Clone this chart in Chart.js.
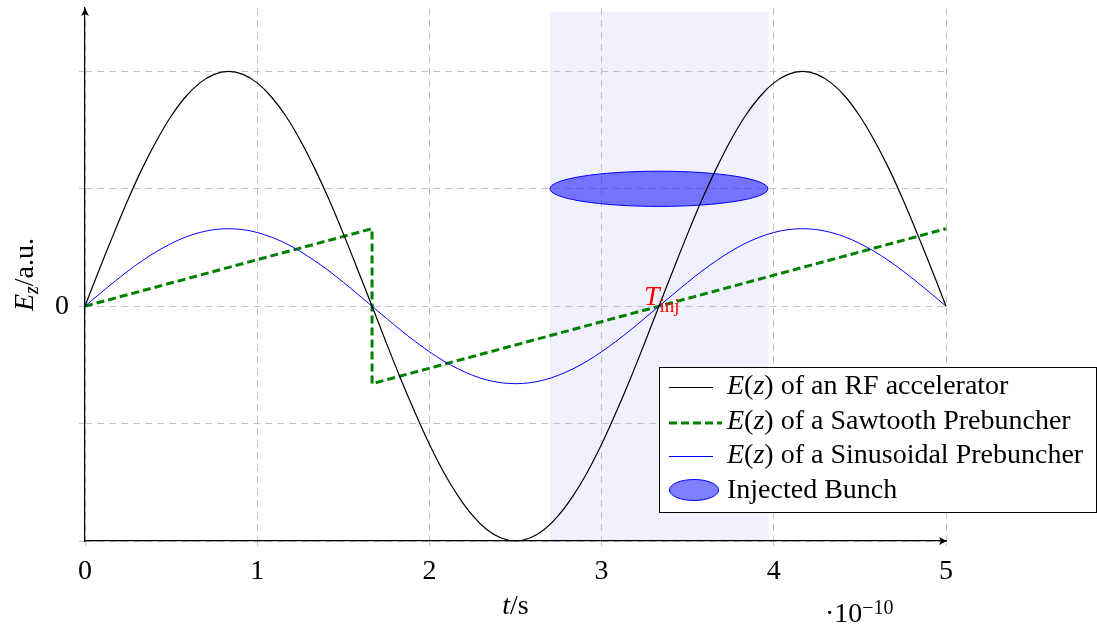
<!DOCTYPE html>
<html>
<head>
<meta charset="utf-8">
<script src="https://cdn.jsdelivr.net/npm/chart.js@4/dist/chart.umd.min.js"></script>
<style>
  html, body { margin: 0; padding: 0; background: #fff; overflow: hidden; }
  canvas { display: block; }
</style>
</head>
<body>
<canvas id="chart" width="1097" height="627"></canvas>
<script>
// time axis samples (units of 1e-10 s)
const timeSamples = [0, 0.083, 0.167, 0.25, 0.333, 0.417, 0.5, 0.583, 0.667, 0.75, 0.833, 0.917, 1, 1.083,
    1.167, 1.25, 1.333, 1.417, 1.5, 1.583, 1.667, 1.75, 1.833, 1.917, 2, 2.083, 2.167, 2.25, 2.333, 2.417, 2.5,
    2.583, 2.667, 2.75, 2.833, 2.917, 3, 3.083, 3.167, 3.25, 3.333, 3.417, 3.5, 3.583, 3.667, 3.75, 3.833, 3.917,
    4, 4.083, 4.167, 4.25, 4.333, 4.417, 4.5, 4.583, 4.667, 4.75, 4.833, 4.917, 5];

// field of the RF accelerator
const rfField = [0, 0.313, 0.618, 0.908, 1.176, 1.414, 1.618, 1.782, 1.902, 1.975, 2,
    1.975, 1.902, 1.782, 1.618, 1.414, 1.176, 0.908, 0.618, 0.313, 0,
    -0.313, -0.618, -0.908, -1.176, -1.414, -1.618, -1.782, -1.902, -1.975, -2,
    -1.975, -1.902, -1.782, -1.618, -1.414, -1.176, -0.908, -0.618, -0.313, 0,
    0.313, 0.618, 0.908, 1.176, 1.414, 1.618, 1.782, 1.902, 1.975, 2,
    1.975, 1.902, 1.782, 1.618, 1.414, 1.176, 0.908, 0.618, 0.313, 0];

// field of the sinusoidal prebuncher
const sineField = [0, 0.103, 0.204, 0.3, 0.388, 0.467, 0.534, 0.588, 0.628, 0.652, 0.66,
    0.652, 0.628, 0.588, 0.534, 0.467, 0.388, 0.3, 0.204, 0.103, 0,
    -0.103, -0.204, -0.3, -0.388, -0.467, -0.534, -0.588, -0.628, -0.652, -0.66,
    -0.652, -0.628, -0.588, -0.534, -0.467, -0.388, -0.3, -0.204, -0.103, 0,
    0.103, 0.204, 0.3, 0.388, 0.467, 0.534, 0.588, 0.628, 0.652, 0.66,
    0.652, 0.628, 0.588, 0.534, 0.467, 0.388, 0.3, 0.204, 0.103, 0];

// sawtooth prebuncher corners
const sawTimes = [0, 1.667, 1.667, 5];
const sawField = [0, 0.66, -0.66, 0.66];

// injection window and bunch
const injectionWindow = [2.7, 3.97];
const bunchCenter = [3.333, 1];
const bunchHalfSize = [0.633, 0.15];
const injectionPoint = [3.333, 0];

const xTicks = [0, 1, 2, 3, 4, 5];
const yLabelled = [0];

const legendTexts = ["of an RF accelerator", "of a Sawtooth Prebuncher", "of a Sinusoidal Prebuncher", "Injected Bunch"];

const serif = '"Liberation Serif", "Times New Roman", serif';
const font = (size, italic) => (italic ? "italic " : "") + size + "px " + serif;

function toPoints(xs, ys) {
    return xs.map((x, i) => ({ x: x, y: ys[i] }));
}

function runsWidth(ctx, runs) {
    let w = 0;
    runs.forEach(r => { ctx.font = r.font; w += ctx.measureText(r.text).width; });
    return w;
}

function drawRuns(ctx, runs, x, y) {
    runs.forEach(r => {
        ctx.font = r.font;
        ctx.fillText(r.text, x, y + (r.dy || 0));
        x += ctx.measureText(r.text).width;
    });
}

function mathE(rest) {
    return [
        { text: "E", font: font(28, true) },
        { text: "(", font: font(28, false) },
        { text: "z", font: font(28, true) },
        { text: ") " + rest, font: font(28, false) },
    ];
}

function arrowHead(ctx, x, y, angle) {
    ctx.save();
    ctx.translate(x, y);
    ctx.rotate(angle);
    ctx.beginPath();
    ctx.moveTo(0, 0);
    ctx.lineTo(-8, -4);
    ctx.lineTo(-6, 0);
    ctx.lineTo(-8, 4);
    ctx.closePath();
    ctx.fillStyle = "#000";
    ctx.fill();
    ctx.restore();
}

const decorations = {
    id: "decorations",
    beforeDraw(chart) {
        const { ctx, chartArea, scales: { x } } = chart;
        // shaded injection window
        const x0 = x.getPixelForValue(injectionWindow[0]);
        const x1 = x.getPixelForValue(injectionWindow[1]);
        ctx.save();
        ctx.fillStyle = "#f0f0ff";
        ctx.fillRect(x0, chartArea.top + 4, x1 - x0, chartArea.bottom - chartArea.top - 4);
        ctx.restore();
    },
    beforeDatasetsDraw(chart) {
        const { ctx, scales: { x, y } } = chart;
        const cx = x.getPixelForValue(bunchCenter[0]);
        const cy = y.getPixelForValue(bunchCenter[1]);
        const rx = x.getPixelForValue(bunchCenter[0] + bunchHalfSize[0]) - cx;
        const ry = cy - y.getPixelForValue(bunchCenter[1] + bunchHalfSize[1]);
        ctx.save();
        ctx.beginPath();
        ctx.ellipse(cx, cy, rx, ry, 0, 0, Math.PI * 2);
        ctx.fillStyle = "rgba(0, 0, 255, 0.52)";
        ctx.fill();
        ctx.strokeStyle = "#0000ff";
        ctx.lineWidth = 1;
        ctx.stroke();
        ctx.restore();
    },
    afterDatasetsDraw(chart) {
        const { ctx, chartArea, scales: { x, y } } = chart;
        ctx.save();
        ctx.fillStyle = "#ff0000";
        ctx.textBaseline = "alphabetic";
        const px = x.getPixelForValue(injectionPoint[0]);
        const py = y.getPixelForValue(injectionPoint[1]);
        drawRuns(ctx, [
            { text: "T", font: font(28, true) },
            { text: "inj", font: font(19, false), dy: 7 },
        ], px - 15, py - 1);
        ctx.restore();

        // axis arrows
        arrowHead(ctx, chartArea.left, chartArea.top, -Math.PI / 2);
        arrowHead(ctx, chartArea.right + 1, chartArea.bottom, 0);
    },
    afterDraw(chart) {
        const { ctx, chartArea } = chart;
        ctx.save();
        ctx.fillStyle = "#000";
        ctx.textBaseline = "alphabetic";

        // x axis title and scale factor
        const xTitle = [
            { text: "t", font: font(28, true) },
            { text: "/s", font: font(28, false) },
        ];
        const mid = (chartArea.left + chartArea.right) / 2;
        drawRuns(ctx, xTitle, mid - runsWidth(ctx, xTitle) / 2, 614);
        drawRuns(ctx, [
            { text: "\u00b710", font: font(28, false) },
            { text: "\u221210", font: font(20, false), dy: -8 },
        ], chartArea.right - 121, 622);

        // y axis title
        const yTitle = [
            { text: "E", font: font(28, true) },
            { text: "z", font: font(20, true), dy: 5 },
            { text: "/a.u.", font: font(28, false) },
        ];
        ctx.translate(33, (chartArea.top + chartArea.bottom) / 2);
        ctx.rotate(-Math.PI / 2);
        drawRuns(ctx, yTitle, -runsWidth(ctx, yTitle) / 2, 0);
        ctx.restore();

        // legend
        const lx = 659, ly = 367, lw = 437, lh = 145;
        ctx.save();
        ctx.fillStyle = "#fff";
        ctx.fillRect(lx, ly, lw, lh);
        ctx.strokeStyle = "#000";
        ctx.lineWidth = 1;
        ctx.strokeRect(lx + 0.5, ly + 0.5, lw, lh);

        const rows = [394, 429, 463, 498];
        const sampleColors = ["#000", "#008000", "#0000ff"];
        rows.slice(0, 3).forEach((base, i) => {
            ctx.beginPath();
            ctx.strokeStyle = sampleColors[i];
            if (i === 1) {
                ctx.lineWidth = 3;
                ctx.setLineDash([8, 4]);
                ctx.moveTo(669, base - 6);
                ctx.lineTo(722, base - 6);
            } else {
                ctx.lineWidth = 1;
                ctx.setLineDash([]);
                ctx.moveTo(669, base - 6.5);
                ctx.lineTo(713, base - 6.5);
            }
            ctx.stroke();
            ctx.setLineDash([]);
            ctx.fillStyle = "#000";
            drawRuns(ctx, mathE(legendTexts[i]), 727, base);
        });
        ctx.beginPath();
        ctx.ellipse(694, 490, 24.5, 10.5, 0, 0, Math.PI * 2);
        ctx.fillStyle = "rgba(0, 0, 255, 0.5)";
        ctx.fill();
        ctx.strokeStyle = "#0000ff";
        ctx.lineWidth = 1;
        ctx.stroke();
        ctx.fillStyle = "#000";
        drawRuns(ctx, [{ text: legendTexts[3], font: font(28, false) }], 727, rows[3]);
        ctx.restore();
    }
};

const gridColor = "#c4c4c4";

new Chart(document.getElementById("chart"), {
    type: "line",
    data: {
        datasets: [
            {
                data: toPoints(timeSamples, rfField),
                borderColor: "#000",
                borderWidth: 1.2,
                tension: 0.34,
                pointRadius: 0,
                clip: false,
                order: 0,
            },
            {
                data: toPoints(timeSamples, sineField),
                borderColor: "#0000ff",
                borderWidth: 1,
                tension: 0.34,
                pointRadius: 0,
                clip: false,
                order: 1,
            },
            {
                data: toPoints(sawTimes, sawField),
                borderColor: "#008000",
                borderWidth: 3,
                borderDash: [8, 4],
                tension: 0,
                pointRadius: 0,
                clip: false,
                order: 2,
            },
        ],
    },
    options: {
        responsive: false,
        animation: false,
        layout: { padding: { top: 8, right: 151, left: 0, bottom: 0 } },
        plugins: { legend: { display: false }, tooltip: { enabled: false } },
        scales: {
            x: {
                type: "linear",
                min: 0,
                max: 5,
                afterFit: s => { s.height = 86; s.paddingLeft = 0; s.paddingRight = 0; },
                afterBuildTicks: s => { s.ticks = xTicks.map(v => ({ value: v })); },
                ticks: {
                    color: "#000",
                    padding: 9,
                    font: { family: serif, size: 28 },
                    maxRotation: 0,
                },
                grid: { color: gridColor, lineWidth: 1, tickLength: 5, tickColor: gridColor },
                border: { color: "#000", width: 1.2, dash: [7, 5] },
            },
            y: {
                min: -2,
                max: 2.54,
                afterFit: s => { s.width = 85; s.paddingTop = 0; s.paddingBottom = 0; },
                ticks: {
                    stepSize: 1,
                    includeBounds: false,
                    color: "#000",
                    padding: 10,
                    font: { family: serif, size: 28 },
                    callback: v => (yLabelled.includes(v) ? String(v) : ""),
                },
                grid: { color: gridColor, lineWidth: 1, tickLength: 6, tickColor: gridColor },
                border: { color: "#000", width: 1.2, dash: [7, 5] },
            },
        },
    },
    plugins: [decorations],
});
</script>
</body>
</html>
